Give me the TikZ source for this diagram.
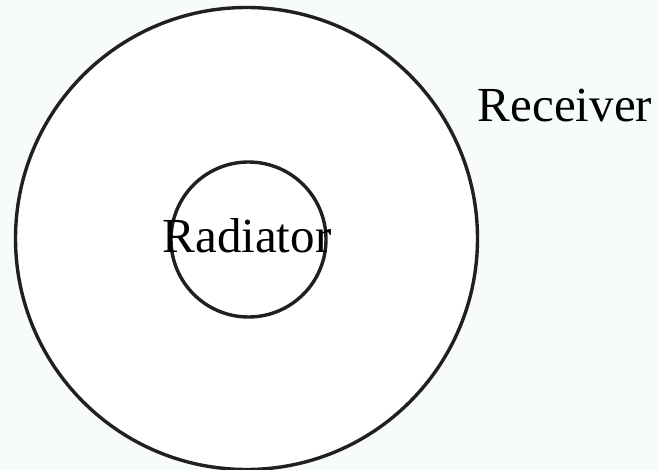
\documentclass[tikz,border=0pt]{standalone}
\usepackage{fontspec}
\setmainfont{Liberation Serif}
\definecolor{bg}{HTML}{F7FBFB}
\definecolor{ink}{HTML}{231F20}
\begin{document}
\begin{tikzpicture}[x=1pt,y=-1pt,
  ring/.style={circle,draw=ink,line width=3.4pt,fill=white,inner sep=0pt},
  lbl/.style={font=\fontsize{49}{51}\selectfont,text=black,inner sep=0pt,anchor=base}]
\fill[bg] (0,0) rectangle (658,470);
\useasboundingbox (0,0) rectangle (658,470);
\node[ring,minimum size=462pt] (outer) at (246.5,238.5) {};
\node[ring,minimum size=155pt] (inner) at (248.5,239.5) {};
\node[lbl] (rad) at (247,253) {Radiator};
\node[lbl] (rec) at (565,122) {Receiver};
\end{tikzpicture}
\end{document}
